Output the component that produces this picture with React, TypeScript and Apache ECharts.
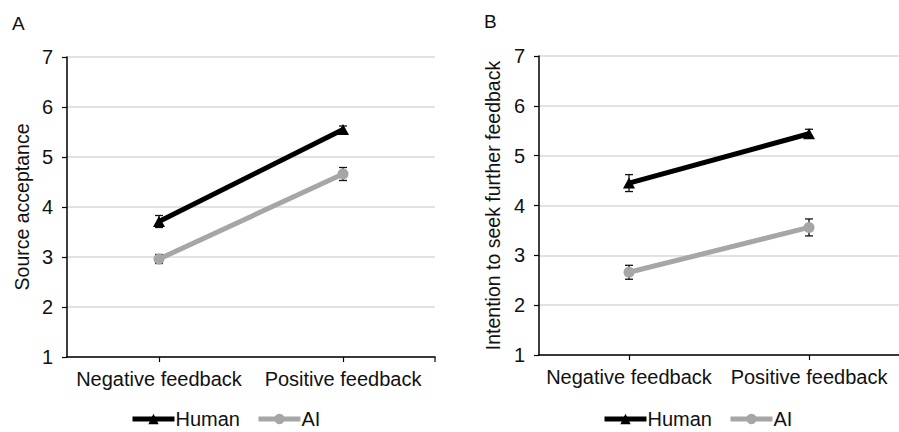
import React, { useEffect, useRef } from "react";
import * as echarts from "echarts";

const categories = ["Negative feedback", "Positive feedback"];
const yTicks = [1, 7];
const seriesNames = ["Human", "AI"];

const humanA = [3.71, 5.55];
const humanAErr = [0.12, 0.07];
const aiA = [2.96, 4.66];
const aiAErr = [0.09, 0.13];

const humanB = [4.45, 5.44];
const humanBErr = [0.17, 0.09];
const aiB = [2.66, 3.56];
const aiBErr = [0.14, 0.17];

const panelTitles = ["A", "B"];
const axisTitles = ["Source acceptance", "Intention to seek further feedback"];

const FONT = "'Liberation Sans', Arial, sans-serif";
const BLACK = "#000000";
const GRAY = "#a6a6a6";

const grids = [
  { left: 67, top: 57, width: 368, height: 300 },
  { left: 539, top: 56, width: 372, height: 299 },
];

function errData(means: number[], errs: number[]) {
  return means.map((m, i) => [i, m, errs[i]]);
}

function errSeries(gridIdx: number, means: number[], errs: number[]) {
  return {
    type: "custom",
    name: "err",
    xAxisIndex: gridIdx,
    yAxisIndex: gridIdx,
    z: 1,
    encode: { x: 0, y: 1 },
    data: errData(means, errs),
    renderItem: (params: any, api: any) => {
      const x = api.value(0);
      const y = api.value(1);
      const e = api.value(2);
      const top = api.coord([x, y + e]);
      const bot = api.coord([x, y - e]);
      const cap = 4;
      const style = { stroke: "#111", lineWidth: 1.3 };
      return {
        type: "group",
        children: [
          { type: "line", shape: { x1: top[0], y1: top[1], x2: bot[0], y2: bot[1] }, style },
          { type: "line", shape: { x1: top[0] - cap, y1: top[1], x2: top[0] + cap, y2: top[1] }, style },
          { type: "line", shape: { x1: bot[0] - cap, y1: bot[1], x2: bot[0] + cap, y2: bot[1] }, style },
        ],
      };
    },
  };
}

function lineSeries(gridIdx: number, name: string, data: number[], color: string, symbol: string, size: any) {
  return {
    type: "line",
    name,
    xAxisIndex: gridIdx,
    yAxisIndex: gridIdx,
    z: 3,
    data,
    symbol,
    symbolSize: size,
    showSymbol: true,
    lineStyle: { color, width: 5 },
    itemStyle: { color },
  };
}

export default function App() {
  const ref = useRef<HTMLDivElement>(null);
  useEffect(() => {
    if (!ref.current) return;
    const chart = echarts.init(ref.current, null, { renderer: "svg" });
    const xAxes = grids.map((g, i) => ({
      type: "category",
      gridIndex: i,
      data: categories,
      boundaryGap: true,
      axisLine: { lineStyle: { color: BLACK, width: 1.5 } },
      axisTick: { show: true, alignWithLabel: true, length: 5, lineStyle: { color: BLACK, width: 1.2 } },
      axisLabel: { color: "#111", fontSize: 20, fontFamily: FONT, margin: 12, interval: 0 },
    }));
    const yAxes = grids.map((g, i) => ({
      type: "value",
      gridIndex: i,
      min: yTicks[0],
      max: yTicks[1],
      interval: 1,
      name: axisTitles[i],
      nameLocation: "middle",
      nameGap: i === 0 ? 35 : 36,
      nameTextStyle: { color: "#111", fontSize: 19.5, fontFamily: FONT },
      axisLine: { show: true, lineStyle: { color: BLACK, width: 1.5 } },
      axisTick: { show: true, length: 5, lineStyle: { color: BLACK, width: 1.2 } },
      axisLabel: { color: "#111", fontSize: 20, fontFamily: FONT, margin: 14 },
      splitLine: { show: true, lineStyle: { color: "#d9d9d9", width: 1.5 } },
    }));
    const legends = [130, 602].map((left) => ({
      left,
      top: 408,
      padding: 0,
      data: seriesNames,
      itemWidth: 42,
      itemHeight: 13,
      itemGap: 16,
      lineStyle: { width: 5 },
      textStyle: { color: "#111", fontSize: 20, fontFamily: FONT, padding: [0, 0, 0, -4], lineHeight: 22 },
    }));
    chart.setOption({
      animation: false,
      backgroundColor: "#ffffff",
      grid: grids,
      xAxis: xAxes,
      yAxis: yAxes,
      legend: legends,
      graphic: [
        { type: "text", left: 12, top: 14, style: { text: panelTitles[0], fontSize: 19, fontFamily: FONT, fill: "#111" } },
        { type: "text", left: 484, top: 12, style: { text: panelTitles[1], fontSize: 19, fontFamily: FONT, fill: "#111" } },
        {
          type: "line",
          shape: { x1: grids[0].left + grids[0].width, y1: grids[0].top + grids[0].height, x2: grids[0].left + grids[0].width, y2: grids[0].top + grids[0].height + 5 },
          style: { stroke: BLACK, lineWidth: 1.2 },
        },
      ],
      series: [
        errSeries(0, humanA, humanAErr),
        errSeries(0, aiA, aiAErr),
        lineSeries(0, seriesNames[0], humanA, BLACK, "triangle", [12, 11]),
        lineSeries(0, seriesNames[1], aiA, GRAY, "circle", 11),
        errSeries(1, humanB, humanBErr),
        errSeries(1, aiB, aiBErr),
        lineSeries(1, seriesNames[0], humanB, BLACK, "triangle", [12, 11]),
        lineSeries(1, seriesNames[1], aiB, GRAY, "circle", 11),
      ],
    });
    return () => chart.dispose();
  }, []);
  return (
    <div
      ref={ref}
      style={{ position: "fixed", left: 0, top: 0, width: 899, height: 432, background: "#fff" }}
    />
  );
}
